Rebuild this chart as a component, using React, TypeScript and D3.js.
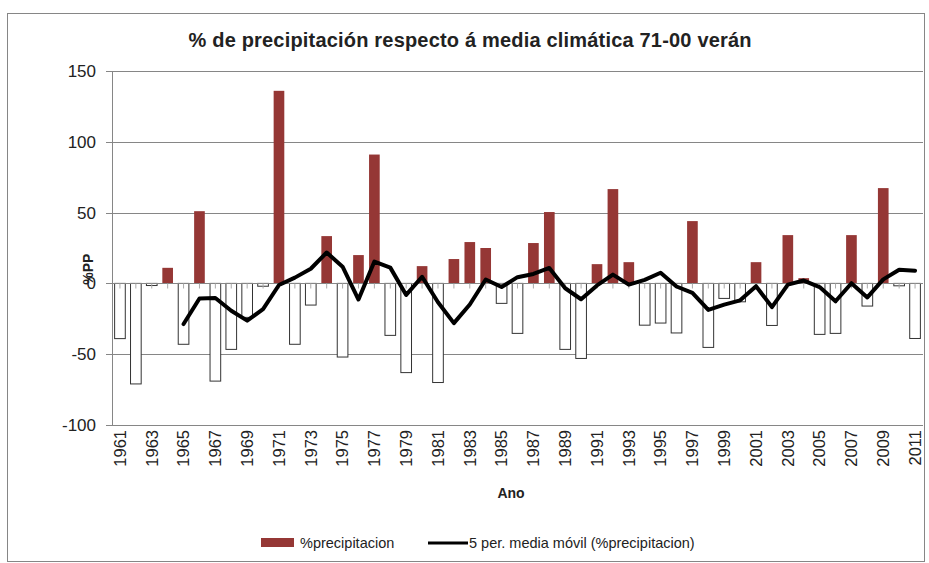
import { useEffect, useRef } from 'react'
import * as d3 from 'd3'

// summer precipitation anomaly (% of 1971-2000 mean)
const years = d3.range(1961, 2012)
const precip = [
  -39, -71, -1.5, 11, -43, 51, -69, -46.6, -24, -2,
  136, -43, -15.3, 33.4, -52, 20, 91, -36.7, -63, 12.2,
  -70, 17.2, 29.2, 25, -14.1, -35.3, 28.5, 50.4, -46.6, -53,
  13.6, 66.6, 15, -29.5, -28, -35, 44, -45.2, -10.6, -13,
  15, -29.7, 34.1, 3.7, -36, -35.3, 34.1, -16, 67.3, -1.7,
  -38.9,
]
const yTicks = [150, 100, 50, 0, -50, -100]
const labelYears = years.filter((y) => (y - 1961) % 2 === 0)

const BAR_RED = '#953735'
const GRID = '#868686'
const FONT = '"Liberation Sans", Arial, sans-serif'

export default function App() {
  const svgRef = useRef<SVGSVGElement>(null)

  useEffect(() => {
    const svg = d3.select(svgRef.current)
    svg.selectAll('*').remove()

    const W = 929
    const H = 563
    const plot = { left: 112, right: 923, top: 71, bottom: 425 }

    // 5-period trailing moving average, as the spreadsheet draws it
    const ma = precip.map((_, i) => (i < 4 ? null : d3.mean(precip.slice(i - 4, i + 1)) as number))

    const x = d3.scaleBand<number>()
      .domain(years)
      .range([plot.left, plot.right])
      .paddingInner(0.33)
      .paddingOuter(0.165)

    const y = d3.scaleLinear().domain([-100, 150]).range([plot.bottom, plot.top])

    // outer border
    svg.append('rect')
      .attr('x', 7.5).attr('y', 13.5)
      .attr('width', W - 12).attr('height', H - 15)
      .attr('fill', 'white').attr('stroke', GRID).attr('stroke-width', 1)

    // title
    svg.append('text')
      .attr('x', 470).attr('y', 47)
      .attr('text-anchor', 'middle')
      .attr('font-family', FONT)
      .attr('font-weight', 'bold')
      .attr('font-size', 20)
      .attr('textLength', 563)
      .attr('fill', '#222')
      .text('% de precipitación respecto á media climática 71-00 verán')

    // gridlines
    svg.append('g')
      .selectAll('line')
      .data(yTicks.filter((d) => d !== 0))
      .enter()
      .append('line')
      .attr('x1', plot.left - 6).attr('x2', plot.right)
      .attr('y1', (d) => Math.round(y(d)) + 0.5).attr('y2', (d) => Math.round(y(d)) + 0.5)
      .attr('stroke', GRID)

    // y axis line and labels
    svg.append('line')
      .attr('x1', plot.left + 0.5).attr('x2', plot.left + 0.5)
      .attr('y1', plot.top).attr('y2', plot.bottom)
      .attr('stroke', GRID)

    svg.append('line')
      .attr('x1', plot.left - 6).attr('x2', plot.left)
      .attr('y1', Math.round(y(0)) + 0.5).attr('y2', Math.round(y(0)) + 0.5)
      .attr('stroke', GRID)

    svg.append('g')
      .selectAll('text')
      .data(yTicks)
      .enter()
      .append('text')
      .attr('x', 96)
      .attr('y', (d) => y(d))
      .attr('dy', '0.35em')
      .attr('text-anchor', 'end')
      .attr('font-family', FONT)
      .attr('font-size', 17)
      .attr('fill', '#222')
      .text((d) => d)

    svg.append('text')
      .attr('transform', `translate(93,${y(10)}) rotate(-90)`)
      .attr('text-anchor', 'middle')
      .attr('font-family', FONT)
      .attr('font-weight', 'bold')
      .attr('font-size', 14)
      .attr('fill', '#222')
      .text('%PP')

    // bars
    svg.append('g')
      .selectAll('rect')
      .data(precip)
      .enter()
      .append('rect')
      .attr('x', (d, i) => x(years[i]) as number)
      .attr('y', (d) => y(Math.max(0, d)))
      .attr('width', x.bandwidth())
      .attr('height', (d) => Math.abs(y(d) - y(0)))
      .attr('fill', (d) => (d >= 0 ? BAR_RED : 'white'))
      .attr('stroke', (d) => (d >= 0 ? 'none' : '#333'))
      .attr('stroke-width', 1)

    // category axis on zero line with ticks between categories
    const y0 = Math.round(y(0)) + 0.5
    svg.append('line')
      .attr('x1', plot.left).attr('x2', plot.right)
      .attr('y1', y0).attr('y2', y0)
      .attr('stroke', GRID)

    svg.append('g')
      .selectAll('line')
      .data(years)
      .enter()
      .append('line')
      .attr('x1', (d) => (x(d) as number) + x.bandwidth() / 2)
      .attr('x2', (d) => (x(d) as number) + x.bandwidth() / 2)
      .attr('y1', y0).attr('y2', y0 + 5)
      .attr('stroke', '#aaa')

    svg.append('g')
      .selectAll('text')
      .data(labelYears)
      .enter()
      .append('text')
      .attr('transform', (d) => `translate(${(x(d) as number) + x.bandwidth() / 2},${plot.bottom + 5}) rotate(-90)`)
      .attr('dy', '0.35em')
      .attr('text-anchor', 'end')
      .attr('font-family', FONT)
      .attr('font-size', 16.5)
      .attr('fill', '#222')
      .text((d) => d)

    svg.append('text')
      .attr('x', 511).attr('y', 498)
      .attr('text-anchor', 'middle')
      .attr('font-family', FONT)
      .attr('font-weight', 'bold')
      .attr('font-size', 14)
      .attr('fill', '#222')
      .text('Ano')

    // moving average line
    const line = d3.line<number | null>()
      .defined((d) => d !== null)
      .x((d, i) => (x(years[i]) as number) + x.bandwidth() / 2)
      .y((d) => y(d as number))

    svg.append('path')
      .datum(ma)
      .attr('d', line)
      .attr('fill', 'none')
      .attr('stroke', 'black')
      .attr('stroke-width', 4)
      .attr('stroke-linejoin', 'round')
      .attr('stroke-linecap', 'round')

    // legend
    const lg = svg.append('g').attr('font-family', FONT).attr('font-size', 14.5).attr('fill', '#222')
    lg.append('rect').attr('x', 261).attr('y', 538).attr('width', 33).attr('height', 9).attr('fill', BAR_RED)
    lg.append('text').attr('x', 300).attr('y', 548).text('%precipitacion')
    lg.append('line').attr('x1', 428).attr('x2', 468).attr('y1', 543).attr('y2', 543)
      .attr('stroke', 'black').attr('stroke-width', 3)
    lg.append('text').attr('x', 469).attr('y', 548).text('5 per. media móvil (%precipitacion)')
  }, [])

  return (
    <svg ref={svgRef} width={929} height={563} style={{ display: 'block', position: 'absolute', left: 0, top: 0 }} />
  )
}
